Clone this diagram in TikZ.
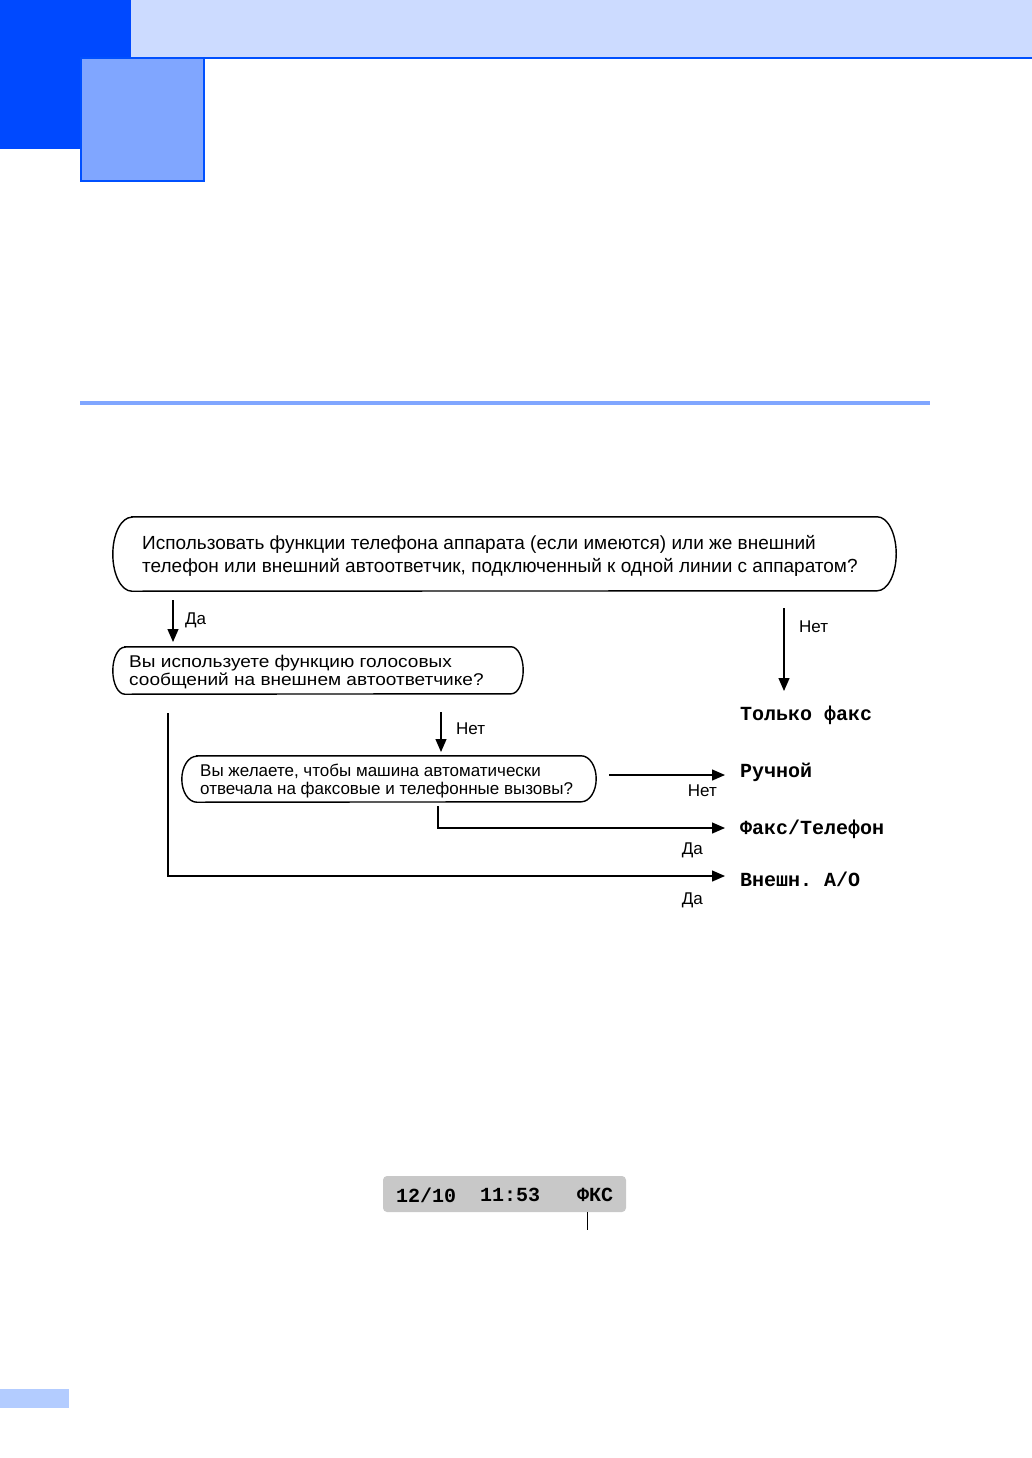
\documentclass[tikz,border=0pt]{standalone}
\usepackage{fontspec}
\setmainfont{Liberation Sans}
\setmonofont{Liberation Mono}
\newfontfamily\widefont[FakeStretch=1.12]{Liberation Sans}
\usetikzlibrary{arrows.meta,calc}
\definecolor{dblue}{HTML}{0049FF}
\definecolor{lband}{HTML}{CCDBFF}
\definecolor{mblue}{HTML}{80A6FF}
\definecolor{bline}{HTML}{0050FF}
\definecolor{rulec}{HTML}{80A6FF}
\definecolor{footb}{HTML}{B3CCFF}
\definecolor{lcd}{HTML}{C8C8C8}
\tikzset{
  qbox/.style={rectangle, draw=none, inner sep=0pt},
  boxln/.style={draw=black, line width=1.4pt},
  qtext/.style={anchor=west, align=left, inner sep=0pt},
  lbl/.style={inner sep=0pt, font=\fontsize{17}{20}\selectfont},
  res/.style={anchor=west, inner sep=0pt, font=\fontsize{20}{22}\selectfont\ttfamily\bfseries},
  arr/.style={line width=1.3pt, -{Triangle[length=13pt,width=11pt]}},
  ln/.style={line width=1.3pt}
}
\newcommand\qoutline[3]{\draw[boxln] ($(#1.north west)+(#2,0)$) -- ($(#1.north east)+(-#2,0)$) arc[start angle=90,end angle=-90,x radius=#2pt,y radius=#3pt] -- ($(#1.south west)+(#2,0)$) arc[start angle=270,end angle=90,x radius=#2pt,y radius=#3pt] -- cycle;}
\begin{document}
\begin{tikzpicture}[x=1pt,y=-1pt]
\useasboundingbox (0,0) rectangle (1032,1458);
% header
\fill[lband] (131,0) rectangle (1032,57);
\fill[bline] (131,57) rectangle (1032,59);
\fill[dblue] (0,0) rectangle (131,149);
\filldraw[fill=mblue, draw=bline, line width=2pt] (80.5,58.5) rectangle (203.5,181.5);
\fill[rulec] (80,401) rectangle (930,405);
\fill[footb] (0,1389) rectangle (69,1408);

% boxes
\node[qbox, minimum width=783pt, minimum height=74pt] (b1) at (504.5,554) {};
\qoutline{b1}{19}{37}
\node[qtext, font=\fontsize{19}{23}\selectfont] (b1t) at (142,556) {Использовать функции телефона аппарата (если имеются) или же внешний\\телефон или внешний автоответчик, подключенный к одной линии с аппаратом?};

\node[qbox, minimum width=410pt, minimum height=47pt] (b2) at (318,670.5) {};
\qoutline{b2}{12}{23.5}
\node[qtext, font=\fontsize{17}{18}\widefont] (b2t) at (129,672.5) {Вы используете функцию голосовых\\сообщений на внешнем автоответчике?};

\node[qbox, minimum width=414pt, minimum height=46pt] (b3) at (389,779) {};
\qoutline{b3}{15}{23}
\node[qtext, font=\fontsize{17}{18}\selectfont] (b3t) at (200,781) {Вы желаете, чтобы машина автоматически\\отвечала на факсовые и телефонные вызовы?};

% results
\node[res] (r1) at (740,715) {Только факс};
\node[res] (r2) at (740,772.5) {Ручной};
\node[res] (r3) at (740,829.5) {Факс/Телефон};
\node[res] (r4) at (740,879) {Внешн. А/О};

% connector points
\coordinate (p1) at (173,600);
\coordinate (p1e) at (173,642);
\coordinate (p2) at (784,608);
\coordinate (p2e) at (784,691);
\coordinate (p3) at (441,712);
\coordinate (p3e) at (441,752);
\coordinate (p4) at (609,775);
\coordinate (p5) at (438,806);
\coordinate (p5c) at (438,828);
\coordinate (p6) at (168,713);
\coordinate (p6c) at (168,876);

\draw[arr] (p1) -- (p1e);
\draw[arr] (p2) -- (p2e);
\draw[arr] (p3) -- (p3e);
\draw[arr, shorten >=15pt] (p4) -- (p4 -| r2.west);
\draw[arr, shorten >=15pt] (p5) -- (p5c) -- (p5c -| r3.west);
\draw[arr, shorten >=15pt] (p6) -- (p6c) -- (p6c -| r4.west);

% labels
\node[lbl, anchor=west] (l1) at (185,620.5) {Да};
\node[lbl, anchor=west] (l2) at (799,627) {Нет};
\node[lbl, anchor=west] (l3) at (456,729) {Нет};
\node[lbl, anchor=east] (l4) at (717,791) {Нет};
\node[lbl, anchor=east] (l5) at (703,850.5) {Да};
\node[lbl, anchor=east] (l6) at (703,900.5) {Да};

% LCD
\node[fill=lcd, rounded corners=4pt, minimum width=243pt, minimum height=36pt, inner sep=0pt] (lcd) at (504.5,1194) {};
\node[res] (d1) at (396,1195) {12/10};
\node[res] (d2) at (480,1195) {11:53};
\node[res] (d3) at (577,1195) {ФКС};
\coordinate (q1) at (587,1230);
\draw[line width=0.8pt] (lcd.south -| q1) -- (q1);
\end{tikzpicture}
\end{document}
